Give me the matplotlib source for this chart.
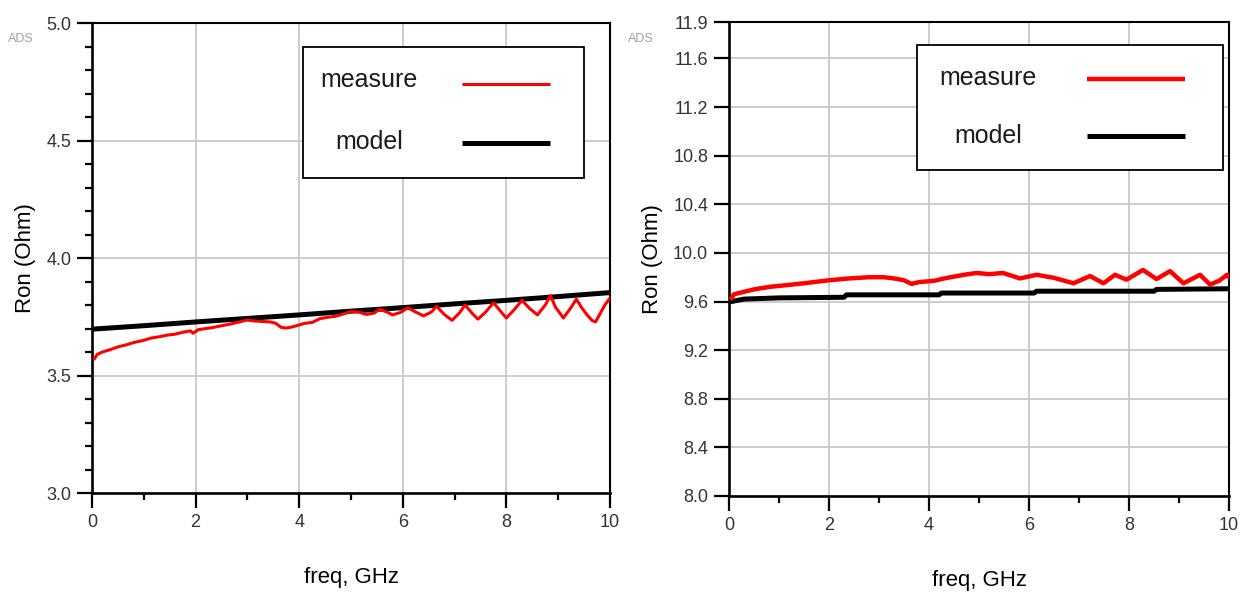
"""Ron vs frequency: measured vs model, two ADS-style panels."""

import matplotlib

matplotlib.use("Agg")
import matplotlib.pyplot as plt
from matplotlib.lines import Line2D
from matplotlib.patches import Rectangle
from matplotlib.ticker import MultipleLocator

plt.rcParams["font.family"] = ["Liberation Sans", "DejaVu Sans"]

# ---- data ----
# left panel
left_meas_f = [0.05, 0.1, 0.2, 0.35, 0.5, 0.65, 0.8, 1.0, 1.15, 1.3, 1.45, 1.6, 1.75, 1.9, 1.95,
               2.05, 2.2, 2.35, 2.5, 2.65, 2.8, 3.0, 3.15, 3.3, 3.45, 3.55, 3.65, 3.75, 3.85, 3.95,
               4.1, 4.25, 4.4, 4.55, 4.7, 4.85, 5.0, 5.15, 5.3, 5.45, 5.55, 5.7, 5.8, 5.95, 6.1,
               6.25, 6.4, 6.55, 6.65, 6.8, 6.95, 7.1, 7.2, 7.35, 7.45, 7.6, 7.75, 7.9, 8.0, 8.15,
               8.3, 8.45, 8.6, 8.75, 8.85, 8.95, 9.1, 9.25, 9.35, 9.45, 9.55, 9.65, 9.72, 9.8,
               9.9, 10.0]
left_meas_v = [3.572, 3.590, 3.600, 3.610, 3.622, 3.630, 3.640, 3.650, 3.660, 3.665, 3.672, 3.676,
               3.684, 3.690, 3.680, 3.695, 3.700, 3.705, 3.712, 3.718, 3.726, 3.736, 3.732, 3.730,
               3.728, 3.722, 3.705, 3.702, 3.706, 3.712, 3.722, 3.726, 3.742, 3.748, 3.752, 3.762,
               3.772, 3.770, 3.760, 3.766, 3.782, 3.770, 3.758, 3.768, 3.788, 3.770, 3.754, 3.770,
               3.795, 3.760, 3.735, 3.768, 3.800, 3.762, 3.740, 3.770, 3.810, 3.770, 3.745, 3.780,
               3.820, 3.785, 3.758, 3.800, 3.840, 3.790, 3.745, 3.790, 3.825, 3.790, 3.760, 3.735,
               3.728, 3.760, 3.800, 3.830]
left_model_f = [0.05, 1.0, 2.0, 3.0, 4.0, 5.0, 6.0, 7.0, 8.0, 9.0, 10.0]
left_model_v = [3.698, 3.712, 3.728, 3.743, 3.758, 3.774, 3.789, 3.805, 3.820, 3.836, 3.853]

# right panel
right_meas_f = [0.05, 0.1, 0.3, 0.5, 0.8, 1.15, 1.5, 2.0, 2.4, 2.8, 3.1, 3.3, 3.5, 3.65, 3.8,
                4.1, 4.3, 4.5, 4.7, 4.95, 5.2, 5.48, 5.82, 6.15, 6.5, 6.89, 7.22, 7.49, 7.72,
                7.95, 8.28, 8.55, 8.82, 9.09, 9.42, 9.62, 9.8, 9.96, 10.0]
right_meas_v = [9.630, 9.660, 9.680, 9.700, 9.720, 9.735, 9.750, 9.775, 9.790, 9.800, 9.800,
                9.790, 9.775, 9.745, 9.760, 9.770, 9.790, 9.805, 9.820, 9.835, 9.825, 9.835,
                9.790, 9.820, 9.795, 9.750, 9.810, 9.750, 9.820, 9.780, 9.860, 9.785, 9.850,
                9.750, 9.820, 9.740, 9.770, 9.820, 9.800]
right_model_f = [0.05, 0.3, 1.0, 2.3, 2.35, 4.2, 4.25, 6.1, 6.15, 8.5, 8.55, 10.0]
right_model_v = [9.600, 9.620, 9.630, 9.635, 9.655, 9.655, 9.670, 9.670, 9.685, 9.685, 9.700, 9.705]

x_ticks = [0, 2, 4, 6, 8, 10]
left_yticks = [3.0, 3.5, 4.0, 4.5, 5.0]
right_yticks = [8.0, 8.4, 8.8, 9.2, 9.6, 10.0, 10.4, 10.8, 11.2, 11.6, 11.9]

RED = "#ff0000"
GRID = "#c8c8c8"
TICKFONT = ["Liberation Sans Narrow", "Liberation Sans", "DejaVu Sans"]


def style_axes(ax, yticks, ylim, yminor=None):
    ax.set_xlim(0, 10)
    ax.set_ylim(*ylim)
    ax.set_xticks(x_ticks)
    ax.set_xticklabels([str(t) for t in x_ticks])
    ax.xaxis.set_minor_locator(MultipleLocator(1))
    ax.set_yticks(yticks)
    ax.set_yticklabels([f"{t:.1f}" for t in yticks])
    if yminor:
        ax.yaxis.set_minor_locator(MultipleLocator(yminor))
    ax.grid(True, which="major", color=GRID, lw=1.3, zorder=0)
    ax.set_axisbelow(True)
    for sp in ax.spines.values():
        sp.set_linewidth(1.5)
        sp.set_color("black")
    ax.spines["left"].set_linewidth(1.9)
    ax.spines["bottom"].set_linewidth(1.9)
    ax.tick_params(which="major", direction="out", length=11, width=1.6, pad=4,
                   labelsize=13, labelcolor="#333333")
    ax.tick_params(which="minor", direction="out", length=5, width=1.6)
    for lab in ax.get_xticklabels() + ax.get_yticklabels():
        lab.set_family(TICKFONT)
    ax.set_xlabel("freq, GHz", fontsize=16, labelpad=26)
    ax.set_ylabel("Ron (Ohm)", fontsize=16, labelpad=7)


def legend_box(ax, box, txt_x, txt_y, line_x, line_y, lw_meas, lw_model):
    x0, y0, x1, y1 = box
    ax.add_patch(Rectangle((x0, y0), x1 - x0, y1 - y0, transform=ax.transAxes,
                           fill=True, facecolor="white", edgecolor="black", lw=1.3,
                           zorder=5))
    ax.text(txt_x, txt_y[0], "measure", transform=ax.transAxes, ha="center",
            va="center", fontsize=18, color="#1a1a1a", zorder=6)
    ax.text(txt_x, txt_y[1], "model", transform=ax.transAxes, ha="center",
            va="center", fontsize=18, color="#1a1a1a", zorder=6)
    ax.add_line(Line2D(line_x, [line_y[0]] * 2, transform=ax.transAxes, color=RED,
                       lw=lw_meas, solid_capstyle="butt", zorder=6))
    ax.add_line(Line2D(line_x, [line_y[1]] * 2, transform=ax.transAxes, color="black",
                       lw=lw_model, solid_capstyle="butt", zorder=6))


fig = plt.figure(figsize=(12.5, 5.93), dpi=100)
ax1 = fig.add_axes([0.0736, 0.1686, 0.4144, 0.7925])
ax2 = fig.add_axes([0.5832, 0.1636, 0.4000, 0.7993])

# left panel
ax1.plot(left_model_f, left_model_v, color="black", lw=3.6, zorder=3)
ax1.plot(left_meas_f, left_meas_v, color=RED, lw=2.2, zorder=4)
style_axes(ax1, left_yticks, (3.0, 5.0), yminor=0.1)
legend_box(ax1, (0.407, 0.670, 0.950, 0.949), 0.535, (0.879, 0.747),
           (0.714, 0.884), (0.870, 0.745), 2.2, 3.6)

# right panel
ax2.plot(right_model_f, right_model_v, color="black", lw=3.6, zorder=3)
ax2.plot(right_meas_f, right_meas_v, color=RED, lw=3.2, zorder=4)
style_axes(ax2, right_yticks, (8.0, 11.9))
legend_box(ax2, (0.376, 0.688, 0.988, 0.951), 0.518, (0.882, 0.759),
           (0.716, 0.912), (0.880, 0.759), 3.2, 3.6)

# ADS watermarks
fig.text(0.0064, 0.934, "ADS", fontsize=9, color="#a0a0a0", va="center")
fig.text(0.5024, 0.934, "ADS", fontsize=9, color="#a0a0a0", va="center")

fig.savefig("out.png", dpi=100)
